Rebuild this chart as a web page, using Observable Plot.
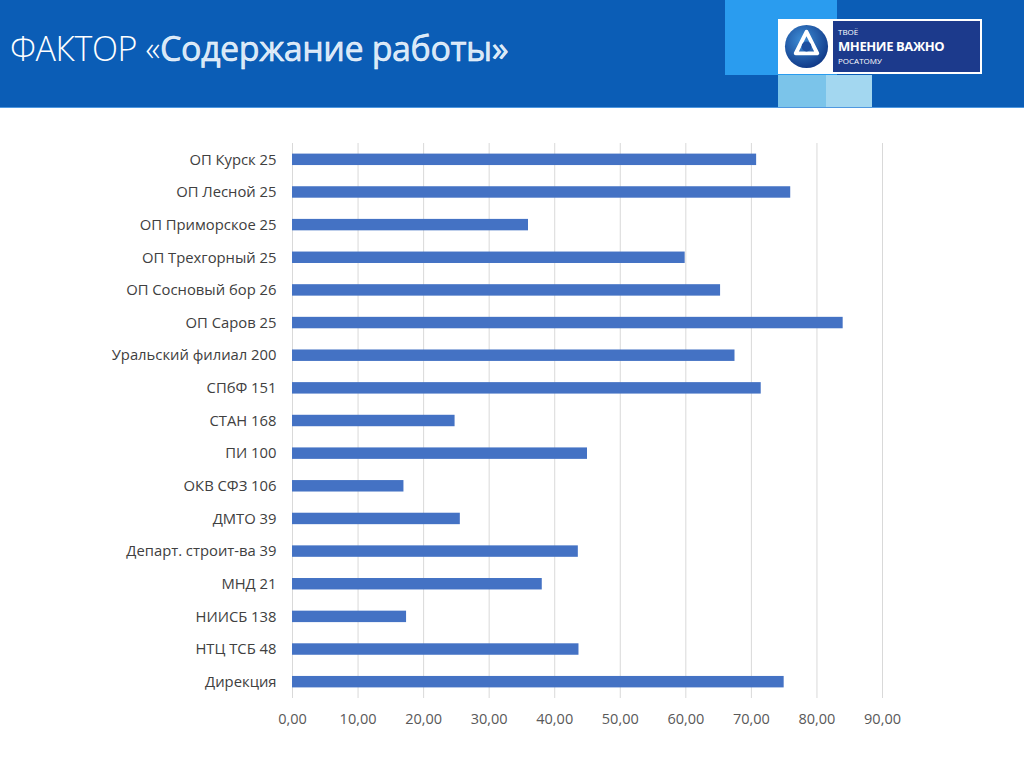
<!DOCTYPE html>
<html>
<head>
<meta charset="utf-8">
<script src="https://cdn.jsdelivr.net/npm/d3@7"></script>
<script src="https://cdn.jsdelivr.net/npm/@observablehq/plot@0.6"></script>
<style>
  html, body { margin: 0; padding: 0; background: #ffffff; width: 1024px; height: 767px; overflow: hidden; }
  #header { position: absolute; left: 0; top: 0; width: 1024px; height: 107px; background: #0b5db6; border-bottom: 1px solid #4f98e0; }
  #title { position: absolute; left: 10px; top: 25px; color: #ffffff; font-family: "Open Sans", sans-serif; font-size: 34px; white-space: nowrap; letter-spacing: -0.4px; }
  #title .a { font-weight: 300; }
  #title .b { font-weight: 400; color: #d6e7f8; -webkit-text-stroke: 0.5px #ffffff; }
  .blk { position: absolute; }
  #logo { position: absolute; left: 778px; top: 19px; width: 204px; height: 55px; background: #ffffff; }
  #logo .mark { position: absolute; left: 5px; top: 4px; width: 47px; height: 47px; }
  #logo .txt { position: absolute; left: 55px; top: 2px; width: 147px; height: 51px; background: #1c3a8c; color: #fff; font-family: "Open Sans", sans-serif; }
  #logo .t1 { position: absolute; left: 5px; top: 5px; font-size: 8px; }
  #logo .t2 { position: absolute; left: 5px; top: 16px; font-size: 13px; font-weight: 700; letter-spacing: -0.4px; }
  #logo .t3 { position: absolute; left: 5px; top: 34px; font-size: 8px; }
  #chart { position: absolute; left: 0; top: 107px; }
</style>
</head>
<body>
<div id="header">
  <div class="blk" style="left:725px;top:0;width:112px;height:75px;background:#2a9cef;"></div>
  <div class="blk" style="left:778px;top:75px;width:48px;height:32px;background:#7bc4ea;"></div>
  <div class="blk" style="left:826px;top:75px;width:46px;height:32px;background:#a3d7f0;"></div>
  <div id="title"><span class="a">ФАКТОР «</span><span class="b">Содержание работы»</span></div>
  <div id="logo">
    <svg class="mark" viewBox="0 0 48 48">
      <defs>
        <radialGradient id="g" cx="40%" cy="35%" r="65%">
          <stop offset="0%" stop-color="#3f8fd8"/>
          <stop offset="100%" stop-color="#123c8a"/>
        </radialGradient>
      </defs>
      <circle cx="24" cy="24" r="22" fill="url(#g)"/>
      <path d="M24 9 L35 31 L13 31 Z" fill="none" stroke="#ffffff" stroke-width="4" stroke-linejoin="round"/>
      <circle cx="24" cy="24" r="5" fill="#1c4fa0"/>
    </svg>
    <div class="txt">
      <div class="t1">ТВОЁ</div>
      <div class="t2">МНЕНИЕ ВАЖНО</div>
      <div class="t3">РОСАТОМУ</div>
    </div>
  </div>
</div>
<div id="chart"></div>
<script>
const categories = [
  "ОП Курск 25",
  "ОП Лесной 25",
  "ОП Приморское 25",
  "ОП Трехгорный 25",
  "ОП Сосновый бор 26",
  "ОП Саров 25",
  "Уральский филиал 200",
  "СПбФ 151",
  "СТАН 168",
  "ПИ 100",
  "ОКВ СФЗ 106",
  "ДМТО 39",
  "Департ. строит-ва 39",
  "МНД 21",
  "НИИСБ 138",
  "НТЦ ТСБ 48",
  "Дирекция"
];
const values = [70.8, 76.0, 36.0, 59.9, 65.3, 84.0, 67.5, 71.5, 24.8, 45.0, 17.0, 25.6, 43.6, 38.1, 17.4, 43.7, 75.0];
const xTicks = [0, 10, 20, 30, 40, 50, 60, 70, 80, 90];

const data = categories.map((c, i) => ({name: c, value: values[i]}));
const fmt = d => d.toFixed(2).replace(".", ",");

const chart = Plot.plot({
  width: 1024,
  height: 660,
  marginLeft: 292,
  marginRight: 142,
  marginTop: 36,
  marginBottom: 69,
  style: {fontFamily: "'Open Sans', sans-serif", fontSize: "14.5px", background: "transparent"},
  x: {domain: [0, 90], ticks: xTicks, label: null},
  y: {domain: categories, padding: 0, round: false, label: null},
  marks: [
    Plot.ruleX(xTicks, {stroke: "#d9d9d9", strokeWidth: 1}),
    Plot.barX(data, {x: "value", y: "name", fill: "#4472c4", insetTop: 10.6, insetBottom: 10.6}),
    Plot.axisX({ticks: xTicks, tickFormat: fmt, tickSize: 0, tickPadding: 15, color: "#595959", fontSize: 14.5, label: null}),
    Plot.axisY({tickSize: 0, tickPadding: 16, color: "#404040", fontSize: 14.8, label: null})
  ]
});
document.getElementById("chart").appendChild(chart);
</script>
</body>
</html>
